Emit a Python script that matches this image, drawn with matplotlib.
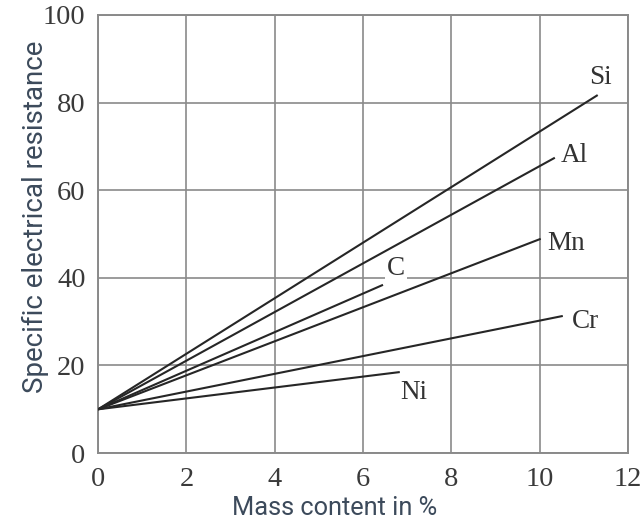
import matplotlib
matplotlib.use("Agg")
import matplotlib.pyplot as plt

# Data: all curves start at (0, 10)
elements = ["Si", "Al", "Mn", "C", "Cr", "Ni"]
x_start = [0, 0, 0, 0, 0, 0]
y_start = [10, 10, 10, 10, 10, 10]
x_end = [11.31, 10.34, 10.02, 6.45, 10.52, 6.83]
y_end = [81.7, 67.4, 48.9, 38.4, 31.3, 18.5]
label_x = [11.38, 10.79, 10.59, 6.74, 11.04, 7.15]
label_y = [85.6, 68.0, 47.9, 42.2, 30.1, 13.9]

x_ticks = [0, 2, 4, 6, 8, 10, 12]
y_ticks = [0, 20, 40, 60, 80, 100]

fig = plt.figure(figsize=(6.41, 5.30), dpi=100)
ax = fig.add_axes([0.153, 0.145, 0.827, 0.827])

for i in range(len(elements)):
    ax.plot([x_start[i], x_end[i]], [y_start[i], y_end[i]], color="#262626",
            lw=1.5, solid_capstyle="butt", zorder=3)
    ax.text(label_x[i], label_y[i], elements[i], family="Liberation Serif",
            fontsize=19.5, color="#333333", ha="center", va="center", zorder=4,
            bbox=dict(facecolor="white", edgecolor="none", pad=1.5))

ax.set_xlim(0, 12)
ax.set_ylim(0, 100)
ax.set_xticks(x_ticks)
ax.set_yticks(y_ticks)
ax.grid(True, color="#8a8a8a", lw=1.2)
ax.set_axisbelow(True)
for s in ax.spines.values():
    s.set_color("#8a8a8a")
    s.set_linewidth(1.4)
ax.tick_params(length=0, labelsize=20.5, labelcolor="#3a3a3a")
ax.tick_params(axis="y", pad=9)
ax.tick_params(axis="x", pad=10)
for lab in ax.get_xticklabels() + ax.get_yticklabels():
    lab.set_family("Liberation Serif")

fig.text(335 / 641, 1 - 508 / 530, "Mass content in %", family="Roboto",
         fontsize=18.3, color="#3c4a5b", ha="center", va="center")
fig.text(35 / 641, 1 - 217 / 530, "Specific electrical resistance",
         family="Roboto", fontsize=20, color="#3c4a5b", ha="center",
         va="center", rotation=90)

fig.savefig("out.png", dpi=100)
